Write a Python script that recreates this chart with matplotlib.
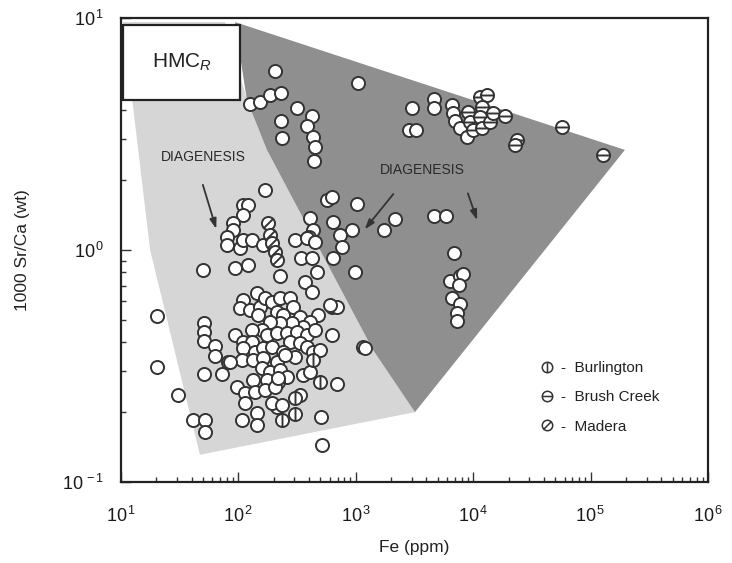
import numpy as np
import matplotlib.pyplot as plt
from matplotlib.path import Path
from matplotlib.patches import Polygon, Rectangle
from matplotlib.lines import Line2D
from matplotlib.ticker import LogLocator, FuncFormatter, NullFormatter

plt.rcParams['font.family'] = ['Liberation Sans', 'DejaVu Sans']
plt.rcParams['mathtext.fontset'] = 'custom'
plt.rcParams['mathtext.rm'] = 'Liberation Sans'
plt.rcParams['mathtext.it'] = 'Liberation Sans:italic'

# shaded fields (Fe ppm, 1000 Sr/Ca)
light_fe = [10.4, 76.9, 118, 175, 1400, 3190, 47, 17.7]
light_srca = [9.6, 9.6, 4.44, 2.70, 0.371, 0.200, 0.131, 1.0]
dark_fe = [93.5, 196000, 3190, 1400, 175, 118]
dark_srca = [9.6, 2.70, 0.200, 0.371, 2.70, 4.44]

# plain circles (no formation symbol)
plain_fe = [205, 1044, 126, 153, 186, 231, 315, 423, 384, 231, 235, 432, 449, 440,
            3010, 2840, 3260, 4630, 4630, 6600, 6730, 7000, 7720, 8850,
            169, 109, 121, 569, 627, 1023, 2160, 639, 928, 1740, 733, 763, 639,
            407, 432, 399, 304, 341, 423, 467, 369, 423, 226, 984, 4630, 5860,
            6860, 6340, 7720, 8190, 7570, 6600, 7720, 7270, 7270, 627, 692, 627, 1150,
            109, 90, 90, 80, 80, 103, 109, 131, 162, 94, 121, 50, 384, 449,
            20.3, 20.3, 30.6, 50.9, 50.9, 50.9, 63.2, 63.2, 50.9, 72.5, 81.5, 93.6,
            41, 52, 52, 107, 144, 144, 213, 505, 515, 692, 1197, 603, 476,
            144, 109, 103, 126, 153, 169, 193, 226, 275, 292, 213, 240, 147, 335,
            407, 355, 286, 226, 186, 159, 131, 109, 131, 175, 213, 259, 315, 384,
            449, 275, 335, 384, 432, 495, 109, 138, 162, 193, 240, 304, 107, 133,
            162, 213, 249, 85, 159, 186, 226, 259, 355, 407, 175, 217, 133, 97,
            114, 138, 169, 205, 335, 193, 235, 114, 217]
plain_srca = [5.91, 5.25, 4.26, 4.35, 4.66, 4.75, 4.10, 3.78, 3.42, 3.60, 3.04, 3.07, 2.78, 2.42,
              4.10, 3.29, 3.29, 4.48, 4.10, 4.22, 3.89, 3.60, 3.36, 3.07,
              1.81, 1.56, 1.56, 1.64, 1.69, 1.58, 1.36, 1.32, 1.22, 1.22, 1.16, 1.03, 0.924,
              1.37, 1.22, 1.14, 1.10, 0.924, 0.92, 0.804, 0.730, 0.659, 0.774, 0.804, 1.40, 1.40,
              0.97, 0.736, 0.774, 0.788, 0.707, 0.621, 0.585, 0.535, 0.494, 0.568, 0.568, 0.430, 0.382,
              1.42, 1.31, 1.22, 1.14, 1.05, 1.02, 1.10, 1.10, 1.05, 0.836, 0.861, 0.820, 1.13, 1.08,
              0.519, 0.313, 0.237, 0.485, 0.443, 0.405, 0.386, 0.350, 0.292, 0.292, 0.330, 0.430,
              0.185, 0.185, 0.164, 0.185, 0.198, 0.176, 0.211, 0.190, 0.145, 0.264, 0.378, 0.579, 0.524,
              0.652, 0.608, 0.562, 0.551, 0.568, 0.621, 0.596, 0.621, 0.621, 0.568, 0.541, 0.524, 0.524, 0.514,
              0.489, 0.466, 0.485, 0.485, 0.489, 0.452, 0.452, 0.401, 0.401, 0.430, 0.439, 0.439, 0.443, 0.430,
              0.452, 0.401, 0.397, 0.382, 0.364, 0.371, 0.378, 0.364, 0.378, 0.382, 0.364, 0.346, 0.336, 0.336,
              0.343, 0.330, 0.353, 0.330, 0.310, 0.298, 0.304, 0.284, 0.289, 0.298, 0.275, 0.270, 0.275, 0.257,
              0.242, 0.245, 0.249, 0.257, 0.237, 0.219, 0.215, 0.219, 0.280]

burl_fe = [432, 495, 304, 304, 235]
burl_srca = [0.336, 0.270, 0.230, 0.196, 0.185]

brush_fe = [9030, 9390, 9960, 11430, 13120, 11880, 11430, 11880, 13900, 14760,
            18670, 23600, 22700, 57000, 127600]
brush_srca = [3.93, 3.56, 3.29, 4.57, 4.66, 4.14, 3.75, 3.36, 3.56, 3.89,
              3.78, 2.98, 2.84, 3.39, 2.57]

madera_fe = [179, 186, 193, 205, 213]
madera_srca = [1.31, 1.16, 1.07, 0.98, 0.905]

legend_labels = ['-  Burlington', '-  Brush Creek', '-  Madera']

# circle markers with a line through them
circ = Path.unit_circle()
def crossed(p0, p1):
    return Path.make_compound_path(circ, Path([p0, p1], [Path.MOVETO, Path.LINETO]))
burl_mk = crossed((0, -1), (0, 1))
brush_mk = crossed((-1, 0), (1, 0))
madera_mk = crossed((-0.7, -0.7), (0.7, 0.7))

fig = plt.figure(figsize=(7.32, 5.63), dpi=100)
ax = fig.add_axes([0.1653, 0.1439, 0.8019, 0.8242])
ax.set_xscale('log')
ax.set_yscale('log')
ax.set_xlim(10, 1e6)
ax.set_ylim(0.1, 10)

ax.add_patch(Polygon(list(zip(light_fe, light_srca)), closed=True, fc='#d6d6d6', ec='none', zorder=0))
ax.add_patch(Polygon(list(zip(dark_fe, dark_srca)), closed=True, fc='#8f8f8f', ec='none', zorder=1))

style = dict(ls='none', ms=9.4, mfc='white', mec='#333333', mew=1.4, zorder=3)
ax.plot(plain_fe, plain_srca, marker='o', **style)
ax.plot(burl_fe, burl_srca, marker=burl_mk, **style)
ax.plot(brush_fe, brush_srca, marker=brush_mk, **style)
ax.plot(madera_fe, madera_srca, marker=madera_mk, **style)

# HMC_R label box
ax.add_patch(Rectangle((0.004, 0.823), 0.199, 0.162, transform=ax.transAxes,
                       fc='white', ec='#222222', lw=1.6, zorder=5))
ax.text(0.103, 0.904, r'HMC$_{\mathit{R}}$', transform=ax.transAxes, ha='center', va='center',
        fontsize=15, color='#222222', zorder=6)

# diagenesis annotations
txt = dict(fontsize=10, color='#2a2a2a', ha='center', va='center', zorder=4)
ax.text(50, 2.52, 'DIAGENESIS', **txt)
ax.text(3660, 2.21, 'DIAGENESIS', **txt)
arr = dict(arrowstyle='-|>,head_length=0.6,head_width=0.2', color='#333333', lw=1.3)
ax.annotate('', xy=(65.8, 1.20), xytext=(49, 1.96), arrowprops=arr, zorder=4)
ax.annotate('', xy=(1151, 1.20), xytext=(2160, 1.78), arrowprops=arr, zorder=4)
ax.annotate('', xy=(11000, 1.31), xytext=(8850, 1.80), arrowprops=arr, zorder=4)

# legend
handles = [Line2D([], [], ls='none', marker=m, ms=7.5, mfc='white', mec='#333333', mew=1.1)
           for m in (burl_mk, brush_mk, madera_mk)]
ax.legend(handles, legend_labels, loc='upper left', bbox_to_anchor=(0.69, 0.29),
          frameon=False, handlelength=1.0, handletextpad=0.4, labelspacing=1.0, fontsize=11,
          labelcolor='#222222')

# axes styling
fmt = FuncFormatter(lambda v, pos: r'$\mathregular{10^{\,%d}}$' % round(np.log10(v)))
for axis in (ax.xaxis, ax.yaxis):
    axis.set_major_locator(LogLocator(base=10, numticks=10))
    axis.set_minor_locator(LogLocator(base=10, subs=np.arange(2, 10), numticks=10))
    axis.set_major_formatter(fmt)
    axis.set_minor_formatter(NullFormatter())
ax.tick_params(which='both', direction='in', color='#333333', width=1.0)
ax.tick_params(which='major', length=7, labelsize=13, labelcolor='#1a1a1a')
ax.tick_params(which='minor', length=3.5)
ax.tick_params(axis='x', which='major', pad=17)
ax.tick_params(axis='y', which='major', pad=12)
for s in ax.spines.values():
    s.set_linewidth(1.6)
    s.set_color('#222222')

ax.set_xlabel('Fe (ppm)', fontsize=12.5, color='#222222')
ax.set_ylabel('1000 Sr/Ca (wt)', fontsize=12.5, color='#222222')
ax.xaxis.set_label_coords(0.5, -0.125)
ax.yaxis.set_label_coords(-0.155, 0.5)

fig.savefig('out.png', dpi=100)
